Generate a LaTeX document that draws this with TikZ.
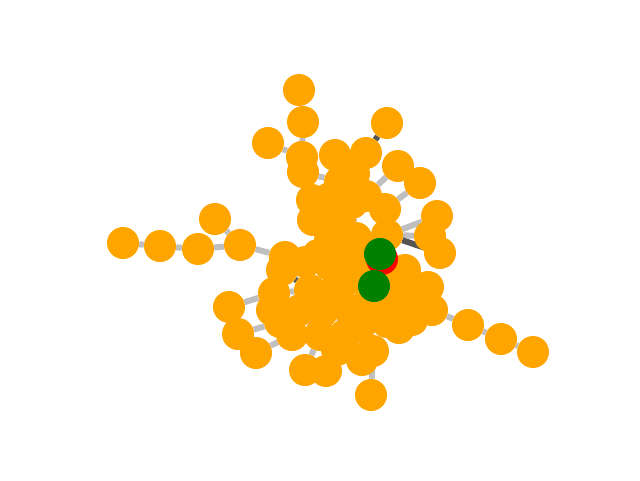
\documentclass[tikz,border=0pt]{standalone}
\usepackage{xcolor}
\usepackage{tikz}
\usetikzlibrary{backgrounds}

\definecolor{vorange}{HTML}{FFA500}
\definecolor{vgreen}{HTML}{008000}
\definecolor{vred}{HTML}{FF0000}
\definecolor{litegray}{HTML}{BFBFBF}
\definecolor{darkgray}{HTML}{555555}

\begin{document}
\begin{tikzpicture}[x=1pt, y=-1pt,
        vtx/.style={circle, fill=vorange, inner sep=0pt, minimum size=32pt},
        hit/.style={vtx, fill=vgreen},
        root/.style={vtx, fill=vred},
        lite/.style={draw=litegray, line width=6pt},
        path/.style={draw=darkgray, line width=6pt}]
        \useasboundingbox (0,0) rectangle (640,480);

        % outer nodes
        \node[vtx] (v1)  at (299,90)  {};
        \node[vtx] (v2)  at (303,122) {};
        \node[vtx] (v3)  at (268,143) {};
        \node[vtx] (v4)  at (302,157) {};
        \node[vtx] (v5)  at (303,172) {};
        \node[vtx] (v6)  at (387,123) {};
        \node[vtx] (v7)  at (366,153) {};
        \node[vtx] (v8)  at (335,155) {};
        \node[vtx] (v9)  at (398,166) {};
        \node[vtx] (v10) at (420,183) {};
        \node[vtx] (v11) at (437,216) {};
        \node[vtx] (v12) at (430,236) {};
        \node[vtx] (v13) at (440,253) {};
        \node[vtx] (v14) at (123,243) {};
        \node[vtx] (v15) at (160,246) {};
        \node[vtx] (v16) at (198,249) {};
        \node[vtx] (v17) at (215,219) {};
        \node[vtx] (v18) at (240,245) {};
        \node[vtx] (v19) at (285,257) {};
        \node[vtx] (v20) at (282,270) {};
        \node[vtx] (v21) at (229,307) {};
        \node[vtx] (v22) at (238,334) {};
        \node[vtx] (v23) at (256,353) {};
        \node[vtx] (v24) at (274,293) {};
        \node[vtx] (v25) at (272,310) {};
        \node[vtx] (v26) at (280,322) {};
        \node[vtx] (v27) at (292,335) {};
        \node[vtx] (v28) at (305,370) {};
        \node[vtx] (v29) at (326,371) {};
        \node[vtx] (v30) at (371,395) {};
        \node[vtx] (v31) at (373,351) {};
        \node[vtx] (v32) at (362,360) {};
        \node[vtx] (v33) at (468,325) {};
        \node[vtx] (v34) at (501,339) {};
        \node[vtx] (v35) at (533,352) {};
        \node[vtx] (v36) at (428,287) {};
        \node[vtx] (v37) at (432,310) {};
        \node[vtx] (v38) at (412,320) {};
        \node[vtx] (v39) at (399,328) {};
        % core
        \node[vtx] (v40) at (340,182) {};
        \node[vtx] (v41) at (312,200) {};
        \node[vtx] (v42) at (366,196) {};
        \node[vtx] (v43) at (385,209) {};
        \node[vtx] (v44) at (313,220) {};
        \node[vtx] (v45) at (340,218) {};
        \node[vtx] (v46) at (330,240) {};
        \node[vtx] (v47) at (387,235) {};
        \node[vtx] (v48) at (305,262) {};
        \node[vtx] (v49) at (310,290) {};
        \node[vtx] (v50) at (335,290) {};
        \node[vtx] (v51) at (350,310) {};
        \node[vtx] (v52) at (320,335) {};
        \node[vtx] (v53) at (345,335) {};
        \node[vtx] (v54) at (395,300) {};
        \node[vtx] (v55) at (405,270) {};
        \node[vtx] (v56) at (362,265) {};
        \node[vtx] (v57) at (367,305) {};
        \node[vtx] (v58) at (330,265) {};
        \node[vtx] (v59) at (300,310) {};
        \node[vtx] (v60) at (387,322) {};
        \node[vtx] (v61) at (347,280) {};
        \node[vtx] (v62) at (408,297) {};
        \node[vtx] (v63) at (337,350) {};
        \node[vtx] (v64) at (352,203) {};
        \node[vtx] (v65) at (356,238) {};
        \node[vtx] (v66) at (330,198) {};
        \node[vtx] (v67) at (345,258) {};
        \node[vtx] (v68) at (322,312) {};
        \node[vtx] (v69) at (360,326) {};
        \node[vtx] (v70) at (390,282) {};
        \node[vtx] (v71) at (318,255) {};
        \node[vtx] (v72) at (354,174) {};
        \node[root] (r1) at (382,259) {};
        \node[hit] (g1)  at (380,254) {};
        \node[hit] (g2)  at (374,286) {};

        \begin{pgfonlayer}{background}
        \path[lite]
        (v1) edge (v2)
        (v2) edge (v4)
        (v3) edge (v4)
        (v4) edge (v5)
        (v5) edge (v40)
        (v8) edge (v42)
        (v9) edge (v42)
        (v10) edge (v43)
        (v11) edge (v47)
        (v12) edge (v47)
        (v40) edge (v42)
        (v41) edge (v44)
        (v42) edge (v43)
        (v44) edge (v46)
        (v45) edge (v46)
        (v14) edge (v15)
        (v15) edge (v16)
        (v16) edge (v18)
        (v17) edge (v18)
        (v18) edge (v19)
        (v19) edge (v48)
        (v21) edge (v24)
        (v22) edge (v26)
        (v23) edge (v27)
        (v24) edge (v49)
        (v25) edge (v59)
        (v26) edge (v59)
        (v27) edge (v52)
        (v28) edge (v52)
        (v29) edge (v53)
        (v30) edge (v31)
        (v31) edge (v53)
        (v32) edge (v53)
        (v33) edge (v34)
        (v34) edge (v35)
        (v33) edge (v37)
        (v36) edge (v62)
        (v37) edge (v62)
        (v38) edge (v60)
        (v39) edge (v57)
        (v46) edge (v58)
        (v58) edge (v50)
        (v50) edge (v51)
        (v51) edge (v57)
        (v56) edge (v57)
        (v55) edge (v62)
        (v54) edge (v60)
        (v52) edge (v59)
        (v59) edge (v49)
        (v53) edge (v63)
        (v61) edge (g2)
        (v56) edge (g1)
        (v64) edge (v65)
        (v66) edge (v41)
        (v67) edge (v71)
        (v68) edge (v69)
        (v70) edge (v54)
        (v72) edge (v40);
        \path[path]
        (v6) edge (v7)
        (v7) edge (v45)
        (v45) edge (g1)
        (v47) edge (v13)
        (v20) edge (v49);
        \end{pgfonlayer}
    \end{tikzpicture}
\end{document}
